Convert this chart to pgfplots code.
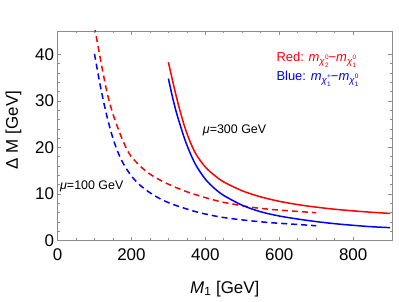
\documentclass[border=0pt]{standalone}
\usepackage{pgfplots}
\pgfplotsset{compat=1.18}
\usepackage{fontspec}
\setmainfont{Liberation Sans}
\definecolor{framegray}{gray}{0.55}
\newcommand{\chisub}[2]{\raisebox{-0.45ex}{\fontsize{9.5}{9.5}\selectfont\textit{χ}\kern0.3pt\rlap{\raisebox{-0.5ex}{\fontsize{6.5}{6.5}\selectfont #1}}\raisebox{1.0ex}{\fontsize{6.5}{6.5}\selectfont #2}}}
\begin{document}
\begin{tikzpicture}
\path[use as bounding box] (-57.5bp,-61.3bp) rectangle (341.5bp,240.7bp);
\begin{axis}[
  at={(0,0)}, anchor=south west,
  scale only axis, width=334.5bp, height=209.7bp,
  xmin=0, xmax=905, ymin=0, ymax=45,
  xtick={0,200,...,800}, ytick={0,10,...,40},
  minor x tick num=3, minor y tick num=4,
  tick align=inside,
  major tick length=4bp, minor tick length=2.5bp,
  axis line style={framegray, line width=0.8bp},
  tick style={framegray, line width=0.7bp},
  /pgf/number format/assume math mode=true,
  tick label style={font=\fontsize{17}{17}\selectfont, black},
  xticklabel style={yshift=-4bp},
  xlabel={\textit{M}\textsubscript{1} [GeV]},
  ylabel={Δ M [GeV]},
  label style={font=\fontsize{17}{17}\selectfont},
  xlabel style={at={(axis description cs:0.5,-0.23)}, anchor=center},
  ylabel style={at={(axis description cs:-0.1316,0.528)}, anchor=center},
  clip=true,
]
% mu = 100 GeV, red dashed
\addplot[red, line width=1.5bp, smooth, dash pattern=on 6bp off 4bp] coordinates {
(100,46.0)(102,45.1)(110,41.6)(118,38.2)(125,35.3)(132,32.5)(140,29.9)(150,27.2)
(160,24.9)(172,22.4)(187,19.7)(200,18.0)(225,15.9)(250,14.3)(280,12.9)(312,11.7)
(350,10.5)(385,9.6)(420,8.8)(448,8.25)(500,7.5)(537,7.05)(580,6.7)(627,6.4)(665,6.2)(700,6.0)};
% mu = 100 GeV, blue dashed
\addplot[blue, line width=1.5bp, smooth, dash pattern=on 6bp off 4bp] coordinates {
(100,40.1)(107,37.0)(114,34.0)(120,31.6)(127,29.0)(135,26.3)(145,23.3)(155,20.8)
(165,18.7)(175,17.0)(190,15.0)(205,13.4)(225,11.8)(250,10.3)(280,8.9)(312,7.8)
(358,6.6)(385,6.0)(420,5.4)(447,5.0)(490,4.55)(537,4.15)(580,3.85)(627,3.6)(665,3.4)(700,3.2)};
% mu = 300 GeV, red solid
\addplot[red, line width=1.5bp, smooth] coordinates {
(300,38.3)(310,34.8)(320,31.4)(331,28.0)(345,24.2)(360,21.0)(376,18.4)(400,15.8)
(425,14.0)(450,12.6)(500,10.7)(550,9.4)(600,8.45)(650,7.75)(700,7.2)(750,6.75)
(800,6.4)(850,6.1)(900,5.85)};
% mu = 300 GeV, blue solid
\addplot[blue, line width=1.5bp, smooth] coordinates {
(300,34.8)(310,31.2)(320,28.0)(330,25.3)(345,21.6)(360,18.6)(376,16.0)(400,13.2)
(425,11.2)(450,9.7)(500,7.6)(550,6.2)(600,5.3)(650,4.65)(700,4.1)(750,3.65)
(800,3.3)(850,3.0)(900,2.8)};
\node[anchor=base west, inner sep=0, font=\fontsize{12.5}{12.5}\selectfont] at (axis cs:393,23.0) {\textit{μ}=300 GeV};
\node[anchor=base west, inner sep=0, font=\fontsize{12.5}{12.5}\selectfont] at (axis cs:6.7,10.9) {\textit{μ}=100 GeV};
\node[anchor=base west, inner sep=0, red, font=\fontsize{13}{13}\selectfont] at (axis cs:592,38.4) {Red: \textit{m}\chisub{2}{0}−\textit{m}\chisub{1}{0}};
\node[anchor=base west, inner sep=0, blue, font=\fontsize{13}{13}\selectfont] at (axis cs:592,34.3) {Blue: \textit{m}\chisub{1}{+}−\textit{m}\chisub{1}{0}};
\end{axis}
\end{tikzpicture}
\end{document}
